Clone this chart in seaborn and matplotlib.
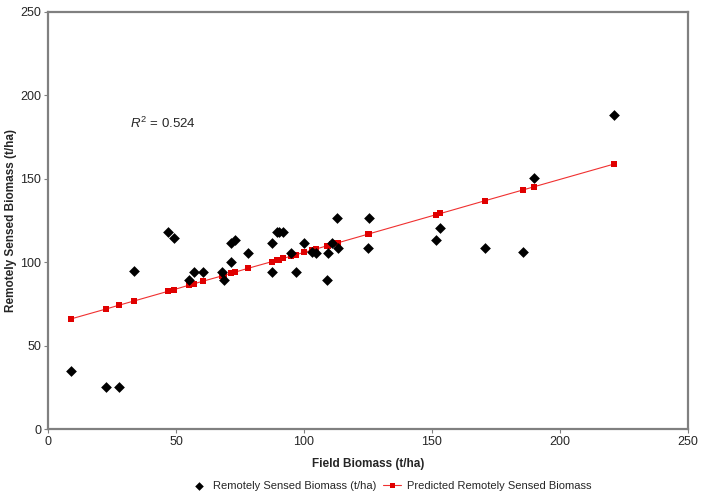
import matplotlib
matplotlib.use("Agg")
import matplotlib.pyplot as plt
import seaborn as sns
import pandas as pd

field_biomass = [9, 22.8, 27.9, 33.5, 47, 49.3, 55, 56.9, 60.5, 68, 68.6, 71.6, 71.5, 73.2,
                 78.3, 87.6, 87.6, 89.3, 90.2, 91.9, 94.9, 96.9, 100, 103.3, 104.7, 109.5,
                 108.9, 111, 113, 113.4, 125.4, 125, 151.6, 153.3, 170.8, 185.5, 189.8, 221]
sensed_biomass = [35, 25, 25, 95, 118.3, 114.3, 89.3, 94.3, 94.3, 94.3, 89.1, 100.1, 111.3, 113.3,
                  105.3, 111.3, 94.3, 118.3, 118.3, 118.3, 105.3, 94.3, 111.3, 106.3, 105.3, 105.3,
                  89.3, 111.3, 126.3, 108.3, 126.3, 108.3, 113.3, 120.3, 108.3, 106.1, 150.5, 188.4]
predicted_biomass = [66, 72, 74.3, 76.7, 82.6, 83.6, 86.2, 87, 88.6, 91.8, 92.1, 93.4, 93.4, 94.1,
                     96.4, 100.4, 100.4, 101.2, 101.6, 102.3, 103.6, 104.5, 105.9, 107.3, 107.9, 110.0,
                     109.8, 110.7, 111.6, 111.7, 117, 116.8, 128.5, 129.2, 136.9, 143.3, 145.2, 158.8]
x_ticks = [0, 50, 100, 150, 200, 250]
y_ticks = [0, 50, 100, 150, 200, 250]

df = pd.DataFrame({"x": field_biomass, "y": sensed_biomass, "p": predicted_biomass})

sns.set_style("white")
plt.rcParams["font.family"] = ["Liberation Sans", "DejaVu Sans"]
plt.rcParams["mathtext.fontset"] = "custom"
plt.rcParams["mathtext.rm"] = "Liberation Sans"
plt.rcParams["mathtext.it"] = "Liberation Sans:italic"

fig = plt.figure(figsize=(7.03, 4.95), dpi=100)
ax = fig.add_axes([48 / 703, 66 / 495, 640 / 703, 417 / 495])

sns.lineplot(data=df, x="x", y="p", ax=ax, color="#f03030", linewidth=0.8,
             marker="s", markersize=4.5, markeredgewidth=0, markerfacecolor="#e00000",
             estimator=None, sort=True, label="Predicted Remotely Sensed Biomass", zorder=2)
sns.scatterplot(data=df, x="x", y="y", ax=ax, color="black", marker="D", s=30,
                edgecolor="black", linewidth=0, label="Remotely Sensed Biomass (t/ha)", zorder=3)

ax.set_xlim(0, 250)
ax.set_ylim(0, 250)
ax.set_xticks(x_ticks)
ax.set_yticks(y_ticks)
ax.tick_params(axis="both", labelsize=9, length=3, width=0.8, color="#808080",
               direction="out", bottom=True, left=True, pad=2)
for s in ax.spines.values():
    s.set_color("#808080")
    s.set_linewidth(1.6)

ax.set_xlabel("Field Biomass (t/ha)", fontsize=8.5, fontweight="bold", labelpad=7)
ax.set_ylabel("Remotely Sensed Biomass (t/ha)", fontsize=8.5, fontweight="bold")
ax.yaxis.set_label_coords(-0.049, 0.5)

ax.text(32, 183.5, r"$R^2$ = 0.524", fontsize=9.5, ha="left", va="center")

handles, labels = ax.get_legend_handles_labels()
order = [labels.index("Remotely Sensed Biomass (t/ha)"), labels.index("Predicted Remotely Sensed Biomass")]
leg = ax.legend([handles[i] for i in order], [labels[i] for i in order], loc="center",
                bbox_to_anchor=(0.535, -0.137), ncol=2, frameon=False, fontsize=8,
                handlelength=1.6, columnspacing=0.6, handletextpad=0.5, markerscale=0.8)

fig.savefig("out.png", dpi=100, facecolor="white")
